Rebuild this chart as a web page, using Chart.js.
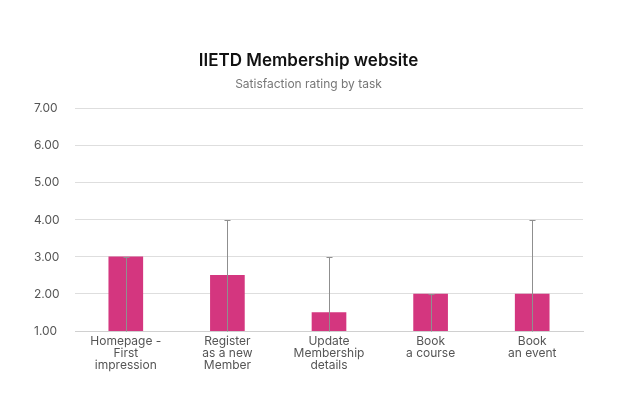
<!DOCTYPE html>
<html>
<head>
<meta charset="utf-8">
<script src="https://cdn.jsdelivr.net/npm/chart.js@4"></script>
<style>
  html, body { margin: 0; padding: 0; background: #fff; }
  #wrap { width: 623px; height: 416px; }
</style>
</head>
<body>
<div id="wrap"><canvas id="chart"></canvas></div>
<script>
// Chart data
const taskLabels = [
    ['Homepage -', 'First', 'impression'],
    ['Register', 'as a new', 'Member'],
    ['Update', 'Membership', 'details'],
    ['Book', 'a course'],
    ['Book', 'an event']
];
const ratings = [3.0, 2.5, 1.5, 2.0, 2.0];
const errorLow = [1.0, 1.0, 1.0, 1.0, 1.0];
const errorHigh = [3.0, 4.0, 3.0, 2.0, 4.0];

const FONT = "Inter, 'Noto Sans', sans-serif";

// Draws the grey range lines with small caps on top of each bar
const errorBarPlugin = {
    id: 'errorBars',
    afterDatasetsDraw(chart) {
        const meta = chart.getDatasetMeta(0);
        const yScale = chart.scales.y;
        const ctx = chart.ctx;
        ctx.save();
        ctx.strokeStyle = '#8f8f8f';
        ctx.lineWidth = 1;
        meta.data.forEach((bar, i) => {
            const x = Math.round(bar.x) + 0.5;
            const yTop = Math.round(yScale.getPixelForValue(errorHigh[i])) + 0.5;
            const yBot = Math.round(yScale.getPixelForValue(errorLow[i])) + 0.5;
            ctx.beginPath();
            ctx.moveTo(x, yBot);
            ctx.lineTo(x, yTop);
            ctx.moveTo(x - 3, yTop);
            ctx.lineTo(x + 3, yTop);
            ctx.stroke();
        });
        ctx.restore();
    }
};

new Chart(document.getElementById('chart').getContext('2d'), {
    type: 'bar',
    data: {
        labels: taskLabels,
        datasets: [{
            data: ratings,
            backgroundColor: '#d4367f',
            borderWidth: 0,
            barThickness: 34
        }]
    },
    options: {
        responsive: true,
        maintainAspectRatio: false,
        animation: false,
        layout: { padding: { top: 0, left: 34, right: 40, bottom: 41 } },
        plugins: {
            legend: { display: false },
            tooltip: { enabled: false },
            title: {
                display: true,
                text: 'IIETD Membership website',
                color: '#111',
                font: { family: FONT, size: 17, weight: '600' },
                padding: { top: 51, bottom: 6 }
            },
            subtitle: {
                display: true,
                text: 'Satisfaction rating by task',
                color: '#777',
                font: { family: FONT, size: 12 },
                padding: { top: 0, bottom: 17 }
            }
        },
        scales: {
            x: {
                grid: { display: false, drawTicks: false },
                border: { color: '#d0d0d0' },
                ticks: {
                    color: '#555',
                    font: { family: FONT, size: 12, lineHeight: 1.0 },
                    padding: 4,
                    maxRotation: 0,
                    autoSkip: false
                }
            },
            y: {
                min: 1,
                max: 7,
                afterFit: scale => { scale.width = 41; },
                grid: { color: '#dedede', drawTicks: false },
                border: { display: false },
                ticks: {
                    stepSize: 1,
                    color: '#555',
                    padding: 16,
                    crossAlign: 'far',
                    font: { family: FONT, size: 12 },
                    callback: v => v.toFixed(2)
                }
            }
        }
    },
    plugins: [errorBarPlugin]
});
</script>
</body>
</html>
